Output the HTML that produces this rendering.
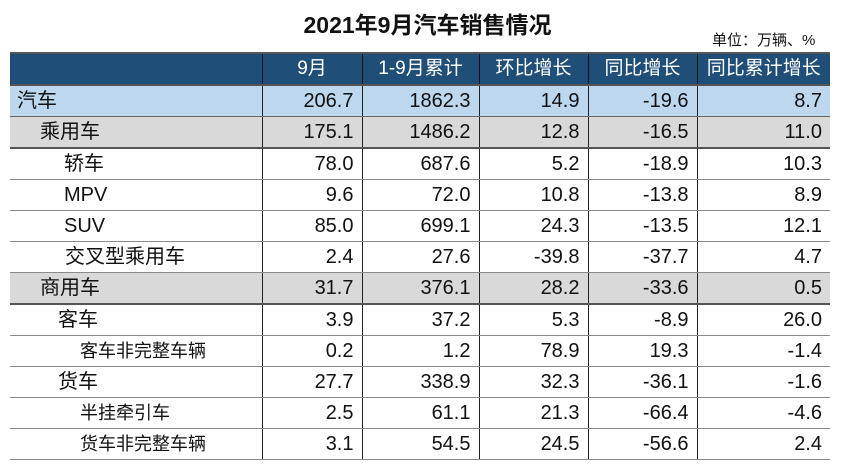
<!DOCTYPE html>
<html><head><meta charset="utf-8">
<style>
body{margin:0;width:855px;height:468px;background:#fff;position:relative;overflow:hidden;font-family:"Liberation Sans","Noto Sans CJK SC",sans-serif;}
#title{position:absolute;left:0;width:855px;top:6px;text-align:center;font-size:23px;font-weight:bold;color:#111;}
#unit{position:absolute;left:712px;top:29px;font-size:15px;color:#111;}
table{position:absolute;left:10px;top:52px;border-collapse:collapse;table-layout:fixed;width:820px;border-top:2px solid #555;}
td,th{height:30px;padding:0 8px 0 0;font-size:20px;color:#111;text-align:right;border-bottom:1.5px solid #8a8a8a;border-left:1.5px solid #222;white-space:nowrap;line-height:30px;}
th{background:#1f4e79;color:#fff;font-weight:normal;font-size:19px;text-align:center;padding:0;border-left:1.5px solid #111;border-bottom:2px solid #555;}
td:first-child,th:first-child{border-left:none;text-align:left;}
tr.top td{background:#bdd7ee;border-bottom:1.5px solid #666;}
tr.grp td{background:#d9d9d9;border-bottom:2px solid #555;}
</style></head><body>
<div id="title">2021年9月汽车销售情况</div>
<div id="unit">单位：万辆、%</div>
<table>
<colgroup><col style="width:252px"><col style="width:100px"><col style="width:117px"><col style="width:109px"><col style="width:109px"><col style="width:133px"></colgroup>
<tr style="height:31px"><th></th><th>9月</th><th>1-9月累计</th><th>环比增长</th><th>同比增长</th><th>同比累计增长</th></tr>
<tr class="top"><td style="padding-left:7px">汽车</td><td>206.7</td><td>1862.3</td><td>14.9</td><td>-19.6</td><td>8.7</td></tr>
<tr class="grp"><td style="padding-left:30px">乘用车</td><td>175.1</td><td>1486.2</td><td>12.8</td><td>-16.5</td><td>11.0</td></tr>
<tr><td style="padding-left:54px">轿车</td><td>78.0</td><td>687.6</td><td>5.2</td><td>-18.9</td><td>10.3</td></tr>
<tr><td style="padding-left:54px">MPV</td><td>9.6</td><td>72.0</td><td>10.8</td><td>-13.8</td><td>8.9</td></tr>
<tr><td style="padding-left:54px">SUV</td><td>85.0</td><td>699.1</td><td>24.3</td><td>-13.5</td><td>12.1</td></tr>
<tr><td style="padding-left:55px">交叉型乘用车</td><td>2.4</td><td>27.6</td><td>-39.8</td><td>-37.7</td><td>4.7</td></tr>
<tr class="grp"><td style="padding-left:30px">商用车</td><td>31.7</td><td>376.1</td><td>28.2</td><td>-33.6</td><td>0.5</td></tr>
<tr><td style="padding-left:48px">客车</td><td>3.9</td><td>37.2</td><td>5.3</td><td>-8.9</td><td>26.0</td></tr>
<tr><td style="padding-left:70px;font-size:18px">客车非完整车辆</td><td>0.2</td><td>1.2</td><td>78.9</td><td>19.3</td><td>-1.4</td></tr>
<tr><td style="padding-left:48px">货车</td><td>27.7</td><td>338.9</td><td>32.3</td><td>-36.1</td><td>-1.6</td></tr>
<tr><td style="padding-left:70px;font-size:18px">半挂牵引车</td><td>2.5</td><td>61.1</td><td>21.3</td><td>-66.4</td><td>-4.6</td></tr>
<tr><td style="padding-left:70px;font-size:18px">货车非完整车辆</td><td>3.1</td><td>54.5</td><td>24.5</td><td>-56.6</td><td>2.4</td></tr>
</table>
</body></html>
